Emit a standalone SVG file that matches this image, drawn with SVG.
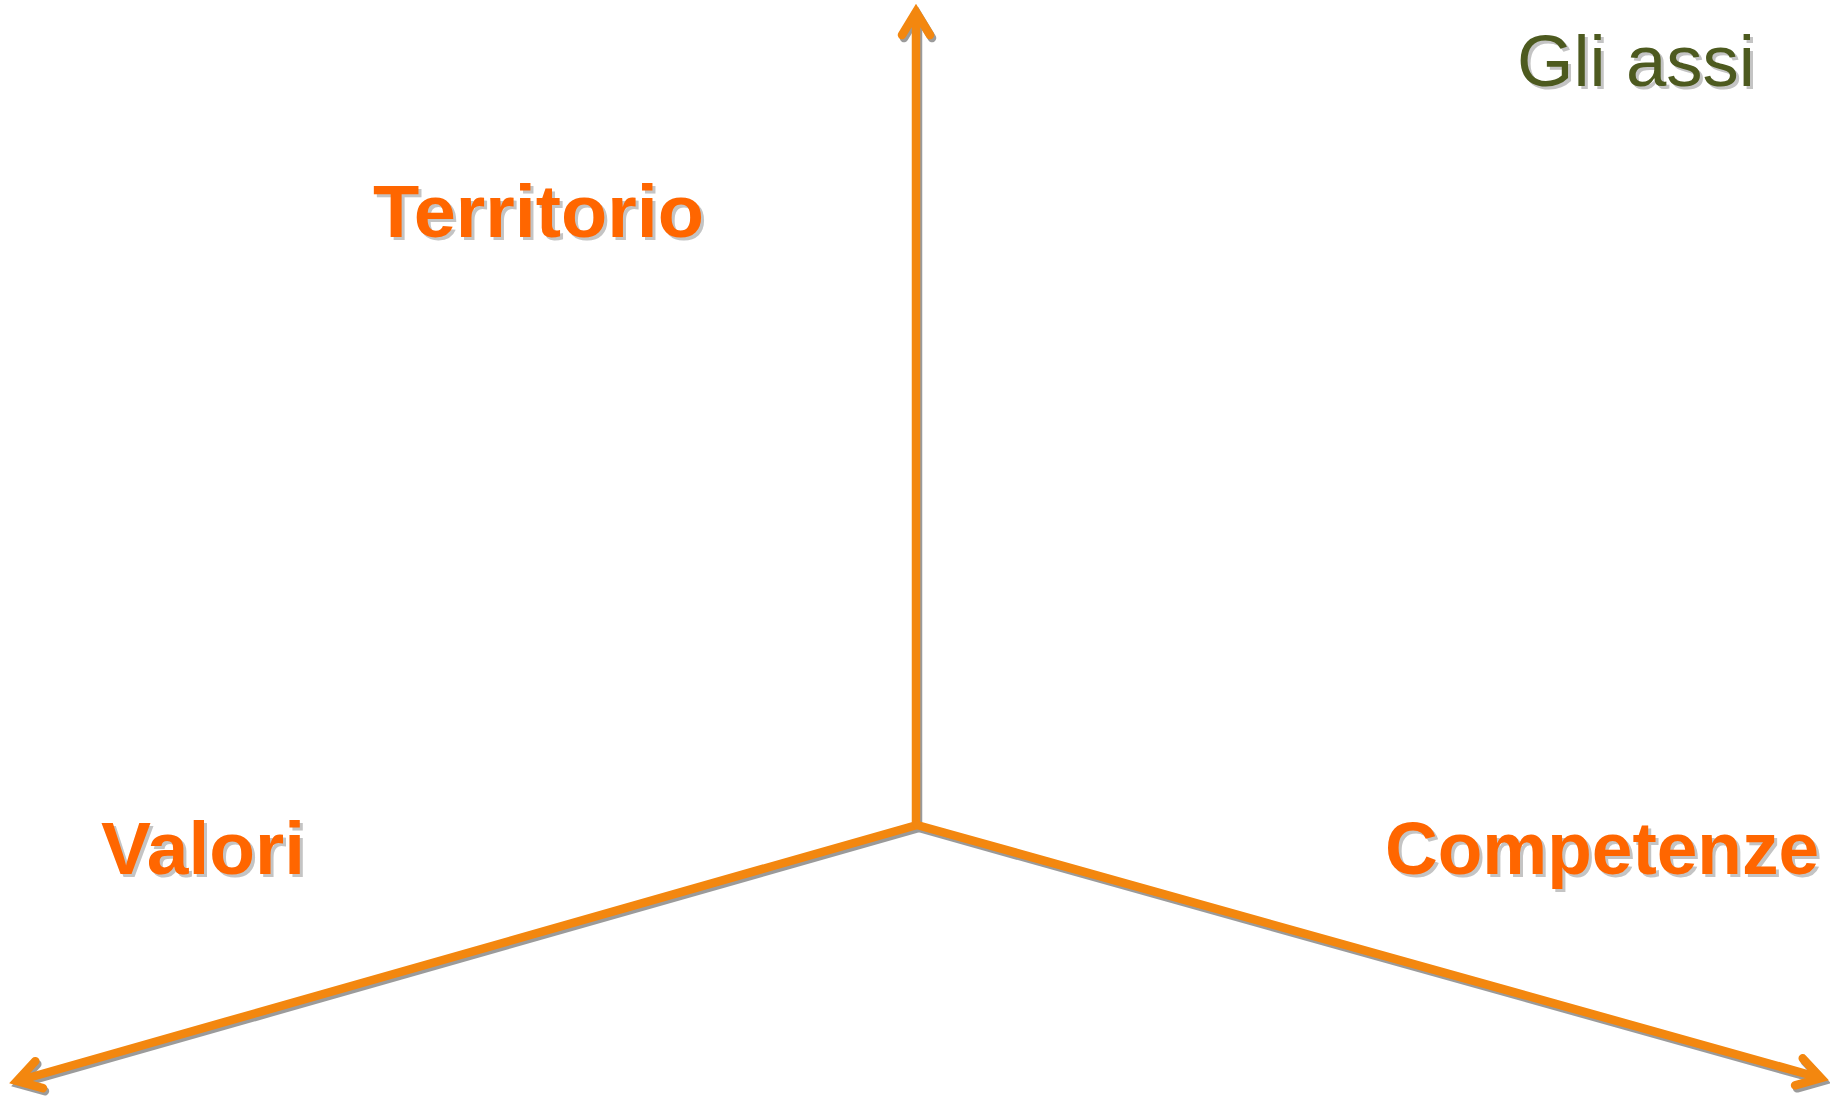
<svg xmlns="http://www.w3.org/2000/svg" xmlns:xlink="http://www.w3.org/1999/xlink" width="1830" height="1099" viewBox="0 0 1830 1099">
<style>
.axis{fill:none;stroke:#F3870F;stroke-width:8.5;stroke-linecap:round;stroke-linejoin:miter}
.axshadow{fill:none;stroke:#707070;stroke-width:8.5;stroke-linecap:round;stroke-linejoin:miter;opacity:0.7}
.lbl{font-family:"Liberation Sans",Arial,sans-serif;font-weight:bold;font-size:75px;fill:#FF6600}
.lblsh{font-family:"Liberation Sans",Arial,sans-serif;font-weight:bold;font-size:75px;fill:#C4C4C4}
.title{font-family:"Liberation Sans",Arial,sans-serif;font-size:73px;fill:#4D5A1F}
.titlesh{font-family:"Liberation Sans",Arial,sans-serif;font-size:73px;fill:#C4C4C4}
</style>
<defs>
<g id="axes">
<path d="M916,822 L916,14 M902,35 L916,12 L930,35"/>
<path d="M917,825 L19,1080.5 M42.9,1088.2 L17,1081 L35.3,1061.2"/>
<path d="M917,825 L1819,1077.5 M1795.1,1085.3 L1821,1078 L1802.7,1058.3"/>
</g>
</defs>
<rect width="1830" height="1099" fill="#FFFFFF"/>
<g id="connectors">
<use xlink:href="#axes" class="axshadow" transform="translate(2,3)"/>
<use xlink:href="#axes" class="axis"/>
</g>
<g id="title">
<text class="titlesh" x="1520" y="89" textLength="238" lengthAdjust="spacingAndGlyphs">Gli assi</text>
<text class="title" x="1517" y="86" textLength="238" lengthAdjust="spacingAndGlyphs">Gli assi</text>
</g>
<g id="territorio">
<text class="lblsh" x="376" y="240" textLength="331" lengthAdjust="spacingAndGlyphs">Territorio</text>
<text class="lbl" x="373" y="237" textLength="331" lengthAdjust="spacingAndGlyphs">Territorio</text>
</g>
<g id="valori">
<text class="lblsh" x="104" y="877" textLength="204" lengthAdjust="spacingAndGlyphs">Valori</text>
<text class="lbl" x="101" y="874" textLength="204" lengthAdjust="spacingAndGlyphs">Valori</text>
</g>
<g id="competenze">
<text class="lblsh" x="1388" y="877" textLength="434" lengthAdjust="spacingAndGlyphs">Competenze</text>
<text class="lbl" x="1385" y="874" textLength="434" lengthAdjust="spacingAndGlyphs">Competenze</text>
</g>
</svg>
